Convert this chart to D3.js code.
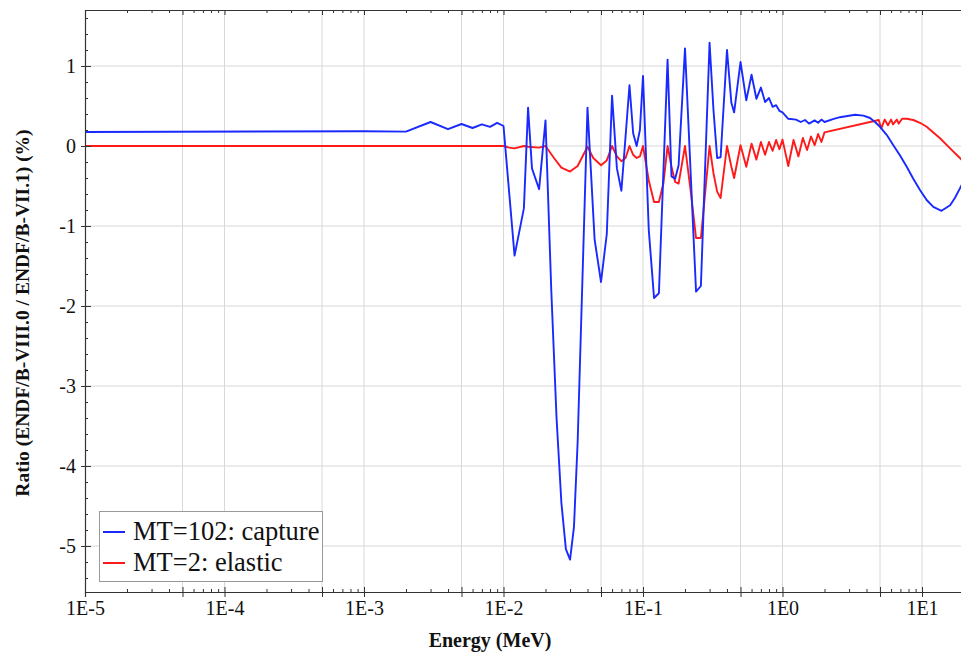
<!DOCTYPE html>
<html><head><meta charset="utf-8">
<script src="https://cdn.jsdelivr.net/npm/d3@7/dist/d3.min.js"></script>
<style>
html,body{margin:0;padding:0;background:#fff;}
svg{display:block;font-family:"Liberation Serif","Times New Roman",serif;}
svg text{font-family:"Liberation Serif","Times New Roman",serif !important;}
</style></head>
<body>
<script>
// ---- data ----
const captureE = [1e-5,1e-3,2e-3,3e-3,4e-3,5e-3,6e-3,7e-3,8e-3,9e-3,1e-2,1.2e-2,1.4e-2,1.5e-2,1.6e-2,1.8e-2,2e-2,2.2e-2,2.4e-2,2.6e-2,2.8e-2,3e-2,3.2e-2,3.4e-2,4e-2,4.5e-2,5e-2,5.5e-2,6e-2,6.5e-2,7e-2,8e-2,8.5e-2,9e-2,9.5e-2,1e-1,1.1e-1,1.2e-1,1.3e-1,1.5e-1,1.6e-1,1.7e-1,1.8e-1,2e-1,2.4e-1,2.6e-1,3e-1,3.2e-1,3.4e-1,3.6e-1,4e-1,4.3e-1,4.5e-1,5e-1,5.5e-1,6e-1,6.5e-1,7e-1,7.5e-1,8e-1,8.5e-1,9e-1,9.5e-1,1.0,1.1,1.25,1.35,1.45,1.55,1.7,1.8,1.9,2.0,2.3,2.58,3.31,3.8,4.24,4.6,5.0,5.58,6.23,6.96,7.77,8.66,9.67,10.8,12.05,13.8,15.9,17.2,18.7,20];
const captureV = [0.175,0.185,0.18,0.30,0.21,0.275,0.225,0.27,0.24,0.29,0.25,-1.37,-0.78,0.48,-0.28,-0.54,0.32,-1.8,-3.4,-4.46,-5.04,-5.17,-4.76,-3.7,0.48,-1.17,-1.7,-1.1,0.63,-0.28,-0.56,0.76,0.16,0.0,0.2,0.875,-1.05,-1.9,-1.84,1.08,-0.38,-0.41,-0.24,1.22,-1.82,-1.75,1.29,0.45,-0.15,-0.14,1.2,0.54,0.42,1.05,0.57,0.89,0.59,0.73,0.55,0.6,0.49,0.51,0.44,0.42,0.34,0.33,0.30,0.325,0.28,0.32,0.29,0.33,0.30,0.335,0.36,0.39,0.38,0.35,0.30,0.24,0.14,0.01,-0.12,-0.26,-0.41,-0.55,-0.675,-0.76,-0.81,-0.74,-0.65,-0.53,-0.43];

const elasticE = [1e-5,1e-2,1.1e-2,1.2e-2,1.4e-2,1.5e-2,1.8e-2,2e-2,2.3e-2,2.6e-2,3e-2,3.4e-2,4e-2,4.4e-2,5e-2,5.5e-2,6e-2,6.5e-2,7e-2,7.5e-2,8e-2,8.5e-2,9e-2,9.5e-2,1e-1,1.1e-1,1.2e-1,1.3e-1,1.4e-1,1.5e-1,1.6e-1,1.7e-1,1.8e-1,2e-1,2.2e-1,2.4e-1,2.6e-1,3e-1,3.2e-1,3.4e-1,3.6e-1,4e-1,4.3e-1,4.5e-1,5e-1,5.5e-1,6e-1,6.5e-1,7e-1,7.5e-1,8e-1,8.5e-1,9e-1,9.5e-1,1.0,1.1,1.2,1.3,1.4,1.5,1.6,1.7,1.8,1.9,2.0,4.9,5.1,5.4,5.7,6.0,6.2,6.6,6.8,7.2,7.77,8.66,9.67,10.8,12.05,13.4,15.9,18.7,20];
const elasticV = [0,0,-0.02,-0.03,0,-0.01,-0.02,0,-0.15,-0.27,-0.32,-0.25,-0.01,-0.15,-0.24,-0.18,0,-0.13,-0.19,-0.15,0,-0.11,-0.15,-0.13,0,-0.43,-0.7,-0.7,-0.47,0,-0.26,-0.45,-0.47,0,-0.57,-1.15,-1.15,0,-0.34,-0.57,-0.65,0,-0.26,-0.4,0.01,-0.26,0.03,-0.17,0.05,-0.11,0.05,-0.06,0.075,-0.04,0.08,-0.25,0.075,-0.13,0.1,-0.05,0.12,0.01,0.15,0.05,0.17,0.325,0.22,0.33,0.26,0.33,0.27,0.33,0.28,0.34,0.34,0.325,0.29,0.24,0.17,0.1,-0.03,-0.15,-0.2];

const seriesNames = ["MT=102: capture","MT=2: elastic"];
const seriesColors = ["#1a2aff","#ff1a1a"];
const xMajorTicks = [1e-5,1e-4,1e-3,1e-2,1e-1,1e0,1e1];
const xTickLabels = ["1E-5","1E-4","1E-3","1E-2","1E-1","1E0","1E1"];
const yMajorTicks = [-5,-4,-3,-2,-1,0,1];
const xTitle = "Energy (MeV)";
const yTitle = "Ratio (ENDF/B-VIII.0 / ENDF/B-VII.1) (%)";

// ---- layout ----
const W = 961, H = 655;
const L = 85, T = 10, B = 592;
const x = d3.scaleLog().domain([1e-5, 20]).range([L, 964]);
const y = d3.scaleLinear().domain([-5.575, 1.7]).range([B, T]);

const svg = d3.select("body").append("svg").attr("width", W).attr("height", H);

svg.append("defs").append("clipPath").attr("id","clip")
  .append("rect").attr("x", L).attr("y", T).attr("width", W - L).attr("height", B - T);

// tick value sets
const gridX = [];
const minorX = [];
for (let e = -5; e <= 1; e++) {
  for (let m = 1; m <= 9; m++) {
    const v = m * Math.pow(10, e);
    if (v > 20) continue;
    if (m === 1 || m === 5) gridX.push(v); else minorX.push(v);
  }
}
const minorY = d3.range(-27, 9).map(d => d * 0.2).filter(d => Math.abs(d - Math.round(d)) > 1e-6 && d > -5.575 && d < 1.7);

// grid
const grid = svg.append("g").attr("clip-path","url(#clip)");
grid.selectAll("line.gx").data(gridX).enter().append("line")
  .attr("x1", d => x(d)).attr("x2", d => x(d)).attr("y1", T).attr("y2", B)
  .attr("stroke", "#d8d8d8").attr("stroke-width", 1);
grid.selectAll("line.gy").data(yMajorTicks).enter().append("line")
  .attr("x1", L).attr("x2", W).attr("y1", d => y(d)).attr("y2", d => y(d))
  .attr("stroke", "#d8d8d8").attr("stroke-width", 1);

// lines
const line = d3.line().x(d => x(d[0])).y(d => y(d[1]));
const plot = svg.append("g").attr("clip-path","url(#clip)");
plot.append("path").datum(elasticE.map((e,i)=>[e, elasticV[i]]))
  .attr("d", line).attr("fill","none").attr("stroke", seriesColors[1]).attr("stroke-width", 1.9).attr("stroke-linejoin","round");
plot.append("path").datum(captureE.map((e,i)=>[e, captureV[i]]))
  .attr("d", line).attr("fill","none").attr("stroke", seriesColors[0]).attr("stroke-width", 1.9).attr("stroke-linejoin","round");

function styleAxis(g){
  g.attr("font-family", "Liberation Serif");
  g.selectAll("path.domain").attr("stroke","#333").attr("stroke-width",1.2);
  g.selectAll(".tick line").attr("stroke","#333").attr("stroke-width",1);
}

// bottom axis: labels + outward major ticks
const xAxisB = svg.append("g").attr("transform", `translate(0,${B})`)
  .call(d3.axisBottom(x).tickValues(gridX).tickSize(5).tickPadding(4)
    .tickFormat(d => { const i = xMajorTicks.findIndex(v => Math.abs(v - d) / d < 1e-6); return i >= 0 ? xTickLabels[i] : ""; }));
styleAxis(xAxisB);
xAxisB.selectAll("text").attr("font-size", 20).attr("fill","#111");
// bottom inner ticks
const xInB1 = svg.append("g").attr("transform", `translate(0,${B})`)
  .call(d3.axisTop(x).tickValues(gridX).tickSize(5).tickFormat(""));
const xInB2 = svg.append("g").attr("transform", `translate(0,${B})`)
  .call(d3.axisTop(x).tickValues(minorX).tickSize(3).tickFormat(""));
[xInB1, xInB2].forEach(g => { styleAxis(g); g.select("path.domain").remove(); });

// top axis with inward ticks
const xAxisT1 = svg.append("g").attr("transform", `translate(0,${T})`)
  .call(d3.axisBottom(x).tickValues(gridX).tickSize(5).tickSizeOuter(0).tickFormat(""));
const xAxisT2 = svg.append("g").attr("transform", `translate(0,${T})`)
  .call(d3.axisBottom(x).tickValues(minorX).tickSize(3).tickFormat(""));
styleAxis(xAxisT1); styleAxis(xAxisT2); xAxisT2.select("path.domain").remove();

// left axis
const yAxis = svg.append("g").attr("transform", `translate(${L},0)`)
  .call(d3.axisLeft(y).tickValues(yMajorTicks).tickSize(4).tickSizeOuter(0).tickPadding(5).tickFormat(d => String(d)));
styleAxis(yAxis);
yAxis.selectAll("text").attr("font-size", 20).attr("fill","#111");
const yIn1 = svg.append("g").attr("transform", `translate(${L},0)`)
  .call(d3.axisRight(y).tickValues(yMajorTicks).tickSize(6).tickFormat(""));
const yIn2 = svg.append("g").attr("transform", `translate(${L},0)`)
  .call(d3.axisRight(y).tickValues(minorY).tickSize(3).tickFormat(""));
[yIn1, yIn2].forEach(g => { styleAxis(g); g.select("path.domain").remove(); });

// axis titles
svg.append("text").attr("x", 490).attr("y", 647).attr("text-anchor","middle")
  .attr("font-size", 20).attr("font-weight","bold").attr("fill","#111").text(xTitle);
svg.append("text").attr("transform", `translate(29,313) rotate(-90)`).attr("text-anchor","middle")
  .attr("font-size", 19.5).attr("font-weight","bold").attr("fill","#111").text(yTitle);

// legend
const lg = svg.append("g");
lg.append("rect").attr("x", 99.5).attr("y", 511.5).attr("width", 223).attr("height", 70)
  .attr("fill","#fff").attr("stroke","#999").attr("stroke-width",1);
seriesNames.forEach((name, i) => {
  const yy = 532 + i * 31;
  lg.append("line").attr("x1", 103).attr("x2", 125).attr("y1", yy).attr("y2", yy)
    .attr("stroke", seriesColors[i]).attr("stroke-width", 2);
  lg.append("text").attr("x", 133).attr("y", yy + 8).attr("font-size", 26.5).attr("fill","#111").text(name);
});
</script>
</body></html>
